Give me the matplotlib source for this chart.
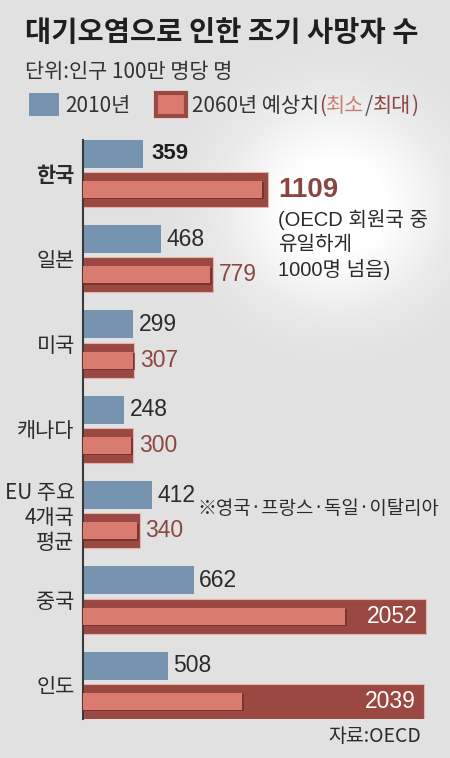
import numpy as np
import matplotlib
matplotlib.use("Agg")
import matplotlib.pyplot as plt
from matplotlib.patches import Patch

plt.rcParams['font.family'] = ['Noto Sans CJK KR', 'DejaVu Sans']
NUM_FONT = ['Liberation Sans Narrow', 'Liberation Sans', 'Noto Sans CJK KR']

# data (deaths per 1M people)
countries = ['한국', '일본', '미국', '캐나다', 'EU 주요\n4개국\n평균', '중국', '인도']
v2010 = [359, 468, 299, 248, 412, 662, 508]
v2060_max = [1109, 779, 307, 300, 340, 2052, 2039]
v2060_min = [1070, 760, 297, 287, 323, 1567, 951]

# colours
BG = '#e1e1e1'
BLUE = '#7694b0'
DARK = '#9a4841'
LIGHT = '#d97b6f'
SHADOW = '#6f2c27'
TXT = '#2b2b2b'
RED_TXT = '#8a4640'

W, H = 450, 758
fig = plt.figure(figsize=(W / 100, H / 100), dpi=100, facecolor=BG)

# soft white glow behind the Korea note
bg = fig.add_axes([0, 0, 1, 1], zorder=0)
bg.axis('off')
yy, xx = np.mgrid[0:H, 0:W]
r = np.hypot(xx - 335, (yy - 205) * 1.05)
alpha = np.clip(1.2 * np.exp(-(r / 105.0) ** 2.4), 0, 1)
glow = np.zeros((H, W, 4))
glow[..., :3] = 1.0
glow[..., 3] = alpha
bg.imshow(glow, extent=(0, W, H, 0), interpolation='bilinear')
bg.set_xlim(0, W)
bg.set_ylim(H, 0)

# main bar axes
ax = fig.add_axes([83 / W, 1 - 719 / H, 1 - 83 / W, (719 - 140) / H], zorder=1)
ax.set_facecolor('none')
rows = np.arange(len(countries))
off_blue, h_blue = -0.225, 0.33
off_red, h_red = 0.195, 0.41
h_in = 0.2

ax.barh(rows + off_blue, v2010, height=h_blue, color=BLUE, zorder=2)
ax.barh(rows + off_red, v2060_max, height=h_red, color=DARK,
        edgecolor='#e6b3ab', linewidth=0.8, zorder=2)
ax.barh(rows + off_red + 0.015, np.array(v2060_min) + 14, height=h_in,
        color=SHADOW, alpha=0.7, zorder=3)
ax.barh(rows + off_red, v2060_min, height=h_in, color=LIGHT, zorder=4)

ax.set_xlim(0, (W - 83) / 0.1672)
ax.set_ylim((719 - 173) / 85.3, (140 - 173) / 85.3)
for s in ['top', 'right', 'bottom']:
    ax.spines[s].set_visible(False)
ax.spines['left'].set_color('#3a3a3a')
ax.spines['left'].set_linewidth(1.5)
ax.set_xticks([])
ax.set_yticks(rows, countries)
ax.tick_params(axis='y', length=0, pad=6, labelsize=15, labelcolor=TXT)
ax.get_yticklabels()[0].set_fontweight('bold')
ax.get_yticklabels()[4].set_linespacing(1.15)

# value labels
for i, (b, mx) in enumerate(zip(v2010, v2060_max)):
    bold = i == 0
    ax.annotate(str(b), (b, i + off_blue), xytext=(6 if bold else 4, 0),
                textcoords='offset points', va='center', ha='left',
                fontsize=16 if bold else 16.5, color='#1e1e1e' if bold else TXT,
                fontweight='bold' if bold else 'normal',
                family=['Liberation Sans'] if bold else NUM_FONT)
    if mx > 1500:
        ax.annotate(str(mx), (mx, i + off_red), xytext=(-6, 0),
                    textcoords='offset points', va='center', ha='right',
                    fontsize=16.5, color='white', family=NUM_FONT)
    elif i == 0:
        ax.annotate(str(mx), (mx, i + off_red), xytext=(7, 0),
                    textcoords='offset points', va='center', ha='left',
                    fontsize=20, color=RED_TXT, fontweight='bold',
                    family=['Liberation Sans'])
    else:
        ax.annotate(str(mx), (mx, i + off_red), xytext=(4, 0),
                    textcoords='offset points', va='center', ha='left',
                    fontsize=16.5, color=RED_TXT, family=NUM_FONT)

ax.annotate('(OECD 회원국 중\n유일하게\n1000명 넘음)', (v2060_max[0], off_red),
            xytext=(7, -14), textcoords='offset points', va='top', ha='left',
            fontsize=14.5, color=TXT, linespacing=1.33,
            family=NUM_FONT)
ax.annotate('※영국·프랑스·독일·이탈리아', (v2010[4], 4), xytext=(33, 4),
            textcoords='offset points', va='center', ha='left',
            fontsize=13.6, color=TXT)

# title block
fig.text(25 / W, 1 - 33 / H, '대기오염으로 인한 조기 사망자 수', fontsize=20.5,
         fontweight='bold', color='#1f1f1f', va='center', ha='left')
fig.text(25 / W, 1 - 72 / H, '단위:인구 100만 명당 명', fontsize=15,
         color='#333333', va='center', ha='left')

handles = [Patch(facecolor=BLUE, edgecolor='none'),
           Patch(facecolor=LIGHT, edgecolor=DARK, linewidth=3)]
leg = fig.legend(handles, ['2010년', '2060년 예상치'], loc='center left',
                 bbox_to_anchor=(29 / W, 1 - 105 / H), ncol=2, frameon=False,
                 fontsize=15, handlelength=1.45, handleheight=1.25,
                 handletextpad=0.3, columnspacing=1.2, borderpad=0,
                 borderaxespad=0, labelcolor='#333333')
prev = leg.get_texts()[1]
for piece, col in [('(', RED_TXT), ('최소', '#c98177'), ('/', '#555555'),
                   ('최대', RED_TXT), (')', RED_TXT)]:
    prev = ax.annotate(piece, xy=(1, 0.5), xycoords=prev, xytext=(0, 0),
                       textcoords='offset points', va='center', ha='left',
                       fontsize=15, color=col)

fig.text(421 / W, 1 - 737 / H, '자료:OECD', fontsize=14, color=TXT,
         ha='right', va='center')

# first draw lays out the legend so the coloured pieces can follow it
fig.canvas.draw()
fig.savefig('out.png', dpi=100, facecolor=BG)
